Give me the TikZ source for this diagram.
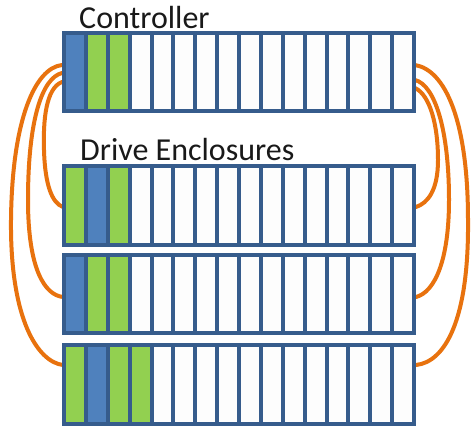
\documentclass[tikz,border=0pt]{standalone}
\usepackage{fontspec}
\setmainfont{Carlito}
\definecolor{frame}{RGB}{54,92,140}
\definecolor{slotblue}{RGB}{79,129,189}
\definecolor{slotgreen}{RGB}{146,208,80}
\definecolor{slotwhite}{RGB}{253,253,253}
\definecolor{cable}{RGB}{232,114,14}
\definecolor{textdark}{RGB}{25,25,25}
\newcommand\rackbox[5]{%
  \node[rack, minimum height=#4pt] (#1) at (#2,#3) {};
  \foreach \c [count=\k from 0] in {#5} {%
    \fill[\c] (#2+4+21.875*\k, #3+4) rectangle ++(17.875, #4-8);}
}
\begin{document}
\begin{tikzpicture}[x=1pt,y=-1pt,
  rack/.style={rectangle, fill=frame, draw=none, inner sep=0pt, outer sep=0pt,
    minimum width=354pt, anchor=north west},
  cablestyle/.style={draw=cable, line width=4pt, line cap=round},
  title/.style={font=\fontsize{32}{38}\selectfont, text=textdark, anchor=base west, inner sep=0pt}]
\useasboundingbox (0,0) rectangle (471,428);
\fill[white] (0,0) rectangle (471,428);

% cable end points
\coordinate (lc1) at (62,82);  \coordinate (le1) at (63,207);
\coordinate (lc2) at (62,73);  \coordinate (le2) at (63,297);
\coordinate (lc3) at (62,65);  \coordinate (le3) at (63,365);
\coordinate (rc1) at (415,88); \coordinate (re1) at (416,207);
\coordinate (rc2) at (415,80); \coordinate (re2) at (416,297);
\coordinate (rc3) at (415,65); \coordinate (re3) at (416,365);

% cables
\draw[cablestyle] (lc1) .. controls (46,88) and (43,120) .. (44,150)
                        .. controls (45,185) and (52,203) .. (le1);
\draw[cablestyle] (lc2) .. controls (42,78) and (28,120) .. (28,200)
                        .. controls (28,270) and (45,295) .. (le2);
\draw[cablestyle] (lc3) .. controls (35,68) and (12,120) .. (11,220)
                        .. controls (10,320) and (38,362) .. (le3);
\draw[cablestyle] (rc1) .. controls (430,95) and (438,125) .. (438,160)
                        .. controls (438,190) and (428,203) .. (re1);
\draw[cablestyle] (rc2) .. controls (435,85) and (449,130) .. (449,200)
                        .. controls (449,260) and (435,292) .. (re2);
\draw[cablestyle] (rc3) .. controls (445,70) and (468,120) .. (468,220)
                        .. controls (469,320) and (445,362) .. (re3);

% boxes
\rackbox{ctrl}{62}{31}{82}{slotblue,slotgreen,slotgreen,slotwhite,slotwhite,slotwhite,slotwhite,slotwhite,slotwhite,slotwhite,slotwhite,slotwhite,slotwhite,slotwhite,slotwhite,slotwhite}
\rackbox{encA}{62}{164}{83}{slotgreen,slotblue,slotgreen,slotwhite,slotwhite,slotwhite,slotwhite,slotwhite,slotwhite,slotwhite,slotwhite,slotwhite,slotwhite,slotwhite,slotwhite,slotwhite}
\rackbox{encB}{62}{253}{82}{slotblue,slotgreen,slotgreen,slotwhite,slotwhite,slotwhite,slotwhite,slotwhite,slotwhite,slotwhite,slotwhite,slotwhite,slotwhite,slotwhite,slotwhite,slotwhite}
\rackbox{encC}{62}{343}{83}{slotgreen,slotblue,slotgreen,slotgreen,slotwhite,slotwhite,slotwhite,slotwhite,slotwhite,slotwhite,slotwhite,slotwhite,slotwhite,slotwhite,slotwhite,slotwhite}

% titles
\node[title] (ctrltitle) at (79,29) {Controller};
\node[title] (enctitle) at (80,160) {Drive Enclosures};
\end{tikzpicture}
\end{document}
